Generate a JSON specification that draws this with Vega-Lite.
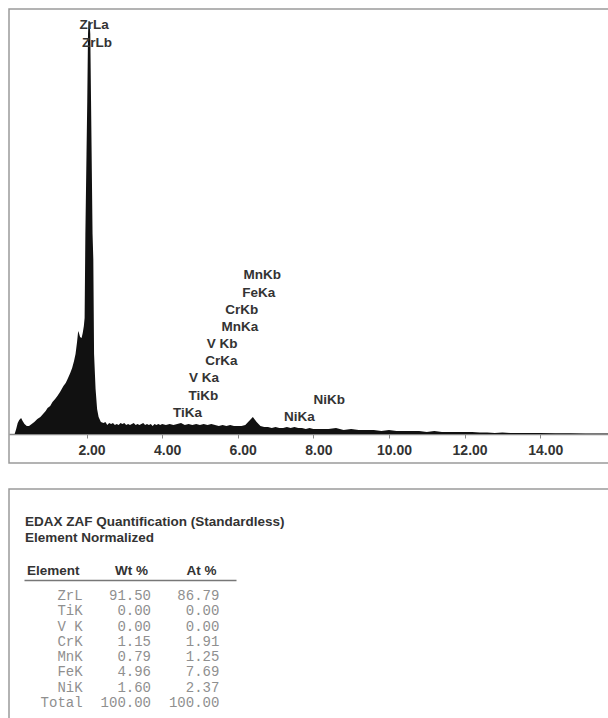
{
  "$schema": "https://vega.github.io/schema/vega-lite/v6.json",
  "padding": {"left": 8, "top": 8, "right": 0, "bottom": 0},
  "background": "white",
  "spacing": 24,
  "config": {"view": {"stroke": "#9a9a9a", "strokeWidth": 1.5}, "font": "Liberation Sans"},
  "datasets": {
    "spectrum": [
      {"keV": 0.10, "counts": 0}, {"keV": 0.14, "counts": 5}, {"keV": 0.18, "counts": 11}, {"keV": 0.22, "counts": 14},
      {"keV": 0.27, "counts": 16}, {"keV": 0.31, "counts": 13}, {"keV": 0.36, "counts": 10}, {"keV": 0.42, "counts": 8},
      {"keV": 0.48, "counts": 8}, {"keV": 0.55, "counts": 10}, {"keV": 0.62, "counts": 12}, {"keV": 0.70, "counts": 15},
      {"keV": 0.78, "counts": 17}, {"keV": 0.85, "counts": 20}, {"keV": 0.92, "counts": 23}, {"keV": 0.97, "counts": 26},
      {"keV": 1.04, "counts": 28}, {"keV": 1.10, "counts": 32}, {"keV": 1.17, "counts": 35}, {"keV": 1.23, "counts": 38},
      {"keV": 1.30, "counts": 42}, {"keV": 1.39, "counts": 48}, {"keV": 1.45, "counts": 51}, {"keV": 1.50, "counts": 55},
      {"keV": 1.57, "counts": 61}, {"keV": 1.62, "counts": 66}, {"keV": 1.67, "counts": 73}, {"keV": 1.71, "counts": 80},
      {"keV": 1.75, "counts": 92}, {"keV": 1.78, "counts": 103}, {"keV": 1.80, "counts": 101}, {"keV": 1.83, "counts": 97},
      {"keV": 1.87, "counts": 96}, {"keV": 1.90, "counts": 101}, {"keV": 1.93, "counts": 108}, {"keV": 1.95, "counts": 116},
      {"keV": 1.97, "counts": 200}, {"keV": 2.00, "counts": 280}, {"keV": 2.02, "counts": 333}, {"keV": 2.04, "counts": 400},
      {"keV": 2.055, "counts": 413}, {"keV": 2.08, "counts": 413}, {"keV": 2.10, "counts": 400}, {"keV": 2.12, "counts": 333},
      {"keV": 2.16, "counts": 200}, {"keV": 2.18, "counts": 175}, {"keV": 2.20, "counts": 80}, {"keV": 2.24, "counts": 45},
      {"keV": 2.28, "counts": 25}, {"keV": 2.32, "counts": 17}, {"keV": 2.38, "counts": 12},
      {"keV": 2.45, "counts": 11}, {"keV": 2.5, "counts": 12}, {"keV": 2.55, "counts": 9}, {"keV": 2.6, "counts": 11},
      {"keV": 2.65, "counts": 10}, {"keV": 2.7, "counts": 11}, {"keV": 2.75, "counts": 9}, {"keV": 2.8, "counts": 10},
      {"keV": 2.85, "counts": 9}, {"keV": 2.9, "counts": 11}, {"keV": 2.95, "counts": 10}, {"keV": 3.0, "counts": 11},
      {"keV": 3.05, "counts": 9}, {"keV": 3.1, "counts": 10}, {"keV": 3.15, "counts": 9}, {"keV": 3.2, "counts": 10},
      {"keV": 3.25, "counts": 11}, {"keV": 3.3, "counts": 9}, {"keV": 3.35, "counts": 10}, {"keV": 3.4, "counts": 9},
      {"keV": 3.45, "counts": 10}, {"keV": 3.5, "counts": 11}, {"keV": 3.55, "counts": 9}, {"keV": 3.6, "counts": 10},
      {"keV": 3.65, "counts": 9}, {"keV": 3.7, "counts": 10}, {"keV": 3.75, "counts": 8}, {"keV": 3.8, "counts": 10},
      {"keV": 3.85, "counts": 9}, {"keV": 3.9, "counts": 10}, {"keV": 3.95, "counts": 9}, {"keV": 4.0, "counts": 10},
      {"keV": 4.1, "counts": 9}, {"keV": 4.2, "counts": 10}, {"keV": 4.3, "counts": 9}, {"keV": 4.4, "counts": 10},
      {"keV": 4.5, "counts": 11}, {"keV": 4.6, "counts": 9}, {"keV": 4.7, "counts": 10}, {"keV": 4.8, "counts": 9},
      {"keV": 4.9, "counts": 10}, {"keV": 5.0, "counts": 9}, {"keV": 5.1, "counts": 10}, {"keV": 5.2, "counts": 9},
      {"keV": 5.3, "counts": 10}, {"keV": 5.4, "counts": 9}, {"keV": 5.5, "counts": 8}, {"keV": 5.6, "counts": 9},
      {"keV": 5.7, "counts": 8}, {"keV": 5.8, "counts": 9}, {"keV": 5.9, "counts": 8}, {"keV": 6.0, "counts": 8},
      {"keV": 6.1, "counts": 8}, {"keV": 6.2, "counts": 9}, {"keV": 6.3, "counts": 13}, {"keV": 6.4, "counts": 17},
      {"keV": 6.5, "counts": 12}, {"keV": 6.6, "counts": 8}, {"keV": 6.7, "counts": 7}, {"keV": 6.8, "counts": 7},
      {"keV": 6.9, "counts": 6}, {"keV": 7.0, "counts": 7}, {"keV": 7.1, "counts": 6}, {"keV": 7.2, "counts": 6},
      {"keV": 7.3, "counts": 7}, {"keV": 7.4, "counts": 6}, {"keV": 7.5, "counts": 7}, {"keV": 7.6, "counts": 6},
      {"keV": 7.7, "counts": 6}, {"keV": 7.8, "counts": 5}, {"keV": 7.9, "counts": 6}, {"keV": 8.0, "counts": 5},
      {"keV": 8.2, "counts": 5}, {"keV": 8.4, "counts": 5}, {"keV": 8.6, "counts": 6}, {"keV": 8.8, "counts": 4},
      {"keV": 9.0, "counts": 5}, {"keV": 9.2, "counts": 4}, {"keV": 9.4, "counts": 4}, {"keV": 9.6, "counts": 4},
      {"keV": 9.8, "counts": 3}, {"keV": 10.0, "counts": 4}, {"keV": 10.2, "counts": 3}, {"keV": 10.4, "counts": 3},
      {"keV": 10.6, "counts": 3}, {"keV": 10.8, "counts": 3}, {"keV": 11.0, "counts": 2}, {"keV": 11.2, "counts": 3},
      {"keV": 11.4, "counts": 2}, {"keV": 11.6, "counts": 2}, {"keV": 11.8, "counts": 2}, {"keV": 12.0, "counts": 2},
      {"keV": 12.2, "counts": 2}, {"keV": 12.4, "counts": 1.5}, {"keV": 12.6, "counts": 1.5}, {"keV": 12.8, "counts": 1},
      {"keV": 13.0, "counts": 1.5}, {"keV": 13.2, "counts": 1}, {"keV": 13.4, "counts": 1}, {"keV": 13.6, "counts": 1},
      {"keV": 13.8, "counts": 1}, {"keV": 14.0, "counts": 1}, {"keV": 14.4, "counts": 0.8}, {"keV": 14.8, "counts": 0.8},
      {"keV": 15.2, "counts": 0.6}, {"keV": 15.6, "counts": 0.6}, {"keV": 15.82, "counts": 0.5}
    ],
    "lines": [
      {"line": "ZrLa", "energy": 2.04, "level": 409},
      {"line": "ZrLb", "energy": 2.12, "level": 391},
      {"line": "TiKa", "energy": 4.51, "level": 21},
      {"line": "TiKb", "energy": 4.93, "level": 38},
      {"line": "V Ka", "energy": 4.95, "level": 56},
      {"line": "CrKa", "energy": 5.41, "level": 73},
      {"line": "V Kb", "energy": 5.43, "level": 90},
      {"line": "MnKa", "energy": 5.90, "level": 107},
      {"line": "CrKb", "energy": 5.95, "level": 124},
      {"line": "FeKa", "energy": 6.40, "level": 141},
      {"line": "MnKb", "energy": 6.49, "level": 159},
      {"line": "NiKa", "energy": 7.47, "level": 17},
      {"line": "NiKb", "energy": 8.26, "level": 34}
    ],
    "quant": [
      {"element": "ZrL", "wt": 91.50, "at": 86.79},
      {"element": "TiK", "wt": 0.00, "at": 0.00},
      {"element": "V K", "wt": 0.00, "at": 0.00},
      {"element": "CrK", "wt": 1.15, "at": 1.91},
      {"element": "MnK", "wt": 0.79, "at": 1.25},
      {"element": "FeK", "wt": 4.96, "at": 7.69},
      {"element": "NiK", "wt": 1.60, "at": 2.37},
      {"element": "Total", "wt": 100.00, "at": 100.00}
    ]
  },
  "vconcat": [
    {
      "width": 600,
      "height": 454,
      "layer": [
        {
          "data": {"name": "spectrum"},
          "mark": {"type": "area", "color": "#111111", "interpolate": "linear"},
          "encoding": {
            "x": {
              "field": "keV", "type": "quantitative",
              "scale": {"domain": [-0.05, 15.82], "nice": false, "zero": false},
              "axis": {
                "orient": "bottom", "offset": -29, "values": [2, 4, 6, 8, 10, 12, 14], "format": ".2f",
                "title": null, "grid": false, "domainColor": "#888888", "domainWidth": 1.5,
                "tickColor": "#888888", "tickSize": 4, "labelFont": "Liberation Sans", "labelFontSize": 14,
                "labelFontWeight": "bold", "labelColor": "#333333", "labelPadding": 5, "labelOffset": 5
              }
            },
            "y": {
              "field": "counts", "type": "quantitative", "stack": null,
              "scale": {"domain": [-29, 425], "nice": false, "zero": false},
              "axis": null
            }
          }
        },
        {
          "data": {"name": "lines"},
          "mark": {"type": "text", "font": "Liberation Sans", "fontWeight": "bold", "fontSize": 13.5, "color": "#333333", "dx": 6, "baseline": "middle", "align": "center"},
          "encoding": {
            "x": {"field": "energy", "type": "quantitative"},
            "y": {"field": "level", "type": "quantitative"},
            "text": {"field": "line", "type": "nominal"}
          }
        }
      ]
    },
    {
      "width": 600,
      "height": 232,
      "title": {
        "text": "EDAX ZAF Quantification (Standardless)",
        "subtitle": "Element Normalized",
        "anchor": "start", "frame": "group", "orient": "top", "offset": -55, "dx": 16,
        "font": "Liberation Sans", "fontSize": 13.5, "fontWeight": "bold", "color": "#333333",
        "subtitleFont": "Liberation Sans", "subtitleFontSize": 13.5, "subtitleFontWeight": "bold",
        "subtitleColor": "#333333", "subtitlePadding": 2
      },
      "data": {"name": "quant"},
      "encoding": {
        "y": {"field": "element", "type": "nominal", "sort": null, "scale": {"type": "point", "range": [107, 214], "padding": 0}, "axis": null}
      },
      "layer": [
        {
          "mark": {"type": "text", "font": "Liberation Mono", "fontSize": 14, "color": "#8f8f8f", "align": "right", "baseline": "middle", "dx": 21},
          "encoding": {
            "x": {
              "datum": "Element", "type": "nominal",
              "scale": {"type": "band", "domain": ["Element", "Wt %", "At %"], "range": [15, 227], "paddingInner": 0, "paddingOuter": 0.05},
              "axis": {
                "orient": "top", "offset": -91, "title": null, "ticks": false, "domainColor": "#777777", "domainWidth": 1.5,
                "labelFont": "Liberation Sans", "labelFontSize": 13.5, "labelFontWeight": "bold", "labelColor": "#333333",
                "labelAlign": "right", "labelAngle": 0, "labelOffset": 18, "labelPadding": 3
              }
            },
            "text": {"field": "element", "type": "nominal"}
          }
        },
        {
          "mark": {"type": "text", "font": "Liberation Mono", "fontSize": 14, "color": "#8f8f8f", "align": "right", "baseline": "middle", "dx": 21},
          "encoding": {
            "x": {"datum": "Wt %", "type": "nominal"},
            "text": {"field": "wt", "type": "quantitative", "format": ".2f"}
          }
        },
        {
          "mark": {"type": "text", "font": "Liberation Mono", "fontSize": 14, "color": "#8f8f8f", "align": "right", "baseline": "middle", "dx": 21},
          "encoding": {
            "x": {"datum": "At %", "type": "nominal"},
            "text": {"field": "at", "type": "quantitative", "format": ".2f"}
          }
        }
      ]
    }
  ]
}
